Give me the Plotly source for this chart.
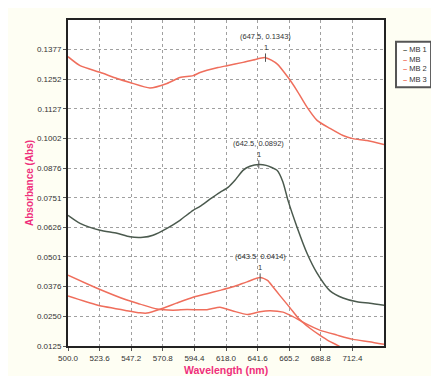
import plotly.graph_objects as go

# ---- data ----
names = ["MB 1", "MB", "MB 2", "MB 3"]

mb1_x = [500.0, 509.0, 523.9, 536.6, 546.3, 556.0, 563.5, 573.9, 583.6, 593.4, 598.6, 606.0,
         613.5, 619.5, 624.7, 630.7, 635.9, 642.5, 648.0, 656.1, 660.5, 664.3, 671.0, 678.5,
         686.0, 695.7, 705.4, 715.8, 725.5, 736.0]
mb1_y = [0.0677, 0.0643, 0.0614, 0.0601, 0.0586, 0.0584, 0.0593, 0.0622, 0.0656, 0.0698, 0.0715, 0.0745,
         0.0774, 0.0795, 0.0825, 0.0867, 0.0884, 0.0892, 0.0888, 0.0867, 0.0818, 0.0740, 0.0628, 0.0517,
         0.0433, 0.0358, 0.0328, 0.0312, 0.0306, 0.0297]

mb_x = [500.0, 509.0, 523.9, 536.6, 546.3, 561.2, 573.9, 583.6, 593.4, 598.6, 612.0, 618.7,
        630.7, 638.2, 647.5, 656.1, 664.3, 671.0, 678.5, 686.0, 695.7, 705.4, 712.8, 723.3, 736.0]
mb_y = [0.1347, 0.1309, 0.1281, 0.1255, 0.1238, 0.1215, 0.1234, 0.1259, 0.1267, 0.1280, 0.1301, 0.1309,
        0.1323, 0.1333, 0.1343, 0.1317, 0.1260, 0.1204, 0.1134, 0.1078, 0.1044, 0.1014, 0.1001, 0.0993, 0.0976]

mb2_x = [500.0, 521.7, 544.0, 553.8, 559.0, 568.7, 581.0, 593.4, 603.8, 613.5, 623.2, 633.7,
         643.5, 649.0, 653.0, 658.0, 666.0, 671.0, 675.0, 680.7, 688.0, 695.0, 701.0, 706.0]
mb2_y = [0.0336, 0.0298, 0.0274, 0.0265, 0.0264, 0.0280, 0.0306, 0.0331, 0.0346, 0.0360, 0.0375, 0.0396,
         0.0414, 0.0402, 0.0375, 0.0340, 0.0285, 0.0249, 0.0227, 0.0200, 0.0171, 0.0146, 0.0129, 0.0112]

mb3_x = [500.0, 521.7, 544.0, 553.8, 566.5, 578.4, 588.9, 603.8, 613.5, 623.2, 634.4, 643.4,
         651.0, 660.6, 668.0, 675.0, 688.0, 701.0, 713.0, 725.0, 736.0]
mb3_y = [0.0424, 0.0369, 0.0319, 0.0302, 0.0281, 0.0276, 0.0279, 0.0278, 0.0289, 0.0273, 0.0258, 0.0270,
         0.0274, 0.0268, 0.0249, 0.0227, 0.0192, 0.0171, 0.0153, 0.0143, 0.0132]

peak_x = [647.5, 642.5, 643.5]
peak_y = [0.1343, 0.0892, 0.0414]
peak_labels = ["(647.5, 0.1343)", "(642.5, 0.0892)", "(643.5, 0.0414)"]

x_ticks = [500.0, 523.6, 547.2, 570.8, 594.4, 618.0, 641.6, 665.2, 688.8, 712.4]
x_tick_labels = ["500.0", "523.6", "547.2", "570.8", "594.4", "618.0", "641.6", "665.2", "688.8", "712.4"]
y_ticks = [0.0125, 0.0250, 0.0376, 0.0501, 0.0626, 0.0751, 0.0876, 0.1002, 0.1127, 0.1252, 0.1377]
y_tick_labels = ["0.0125", "0.0250", "0.0376", "0.0501", "0.0626", "0.0751", "0.0876", "0.1002",
                 "0.1127", "0.1252", "0.1377"]

DARK = "#4b5a4e"
RED = "#ef6e5c"
PINK = "#ef2f7c"
FONT = "Liberation Sans, Arial"
colors = {"MB 1": DARK, "MB": RED, "MB 2": RED, "MB 3": RED}

fig = go.Figure()
series = [("MB 1", mb1_x, mb1_y), ("MB", mb_x, mb_y), ("MB 2", mb2_x, mb2_y), ("MB 3", mb3_x, mb3_y)]
for nm, xs, ys in series:
    fig.add_trace(go.Scatter(x=xs, y=ys, mode="lines", name=nm, showlegend=False,
                             line=dict(color=colors[nm], width=1.5, shape="spline", smoothing=0.6)))

# peak markers
fig.add_trace(go.Scatter(x=peak_x, y=peak_y, mode="markers", showlegend=False,
                         marker=dict(symbol="line-ns", size=6, line=dict(color="#555", width=1))))

for px_, py_, lab in zip(peak_x, peak_y, peak_labels):
    fig.add_annotation(x=px_, y=py_, text=lab, showarrow=False, yshift=21,
                       font=dict(size=7.5, color="#333", family=FONT))
    fig.add_annotation(x=px_, y=py_, text="1", showarrow=False, yshift=10,
                       font=dict(size=7.5, color="#333", family=FONT))

# legend box (drawn in paper coordinates)
fig.add_shape(type="rect", xref="paper", yref="paper", x0=1.038, x1=1.149, y0=0.794, y1=0.933,
              line=dict(color="#555", width=2), fillcolor="white", layer="above")
leg_y = [0.911, 0.880, 0.850, 0.819]
for nm, ly in zip(names, leg_y):
    fig.add_annotation(xref="paper", yref="paper", x=1.055, y=ly, xanchor="left", yanchor="middle",
                       showarrow=False,
                       text=f'<span style="color:{colors[nm]}"><b>–</b></span> {nm}',
                       font=dict(size=7.5, color="#333", family=FONT))

# axis titles
fig.add_annotation(xref="paper", yref="paper", x=0, y=0.5, xanchor="center", yanchor="middle",
                   xshift=-39, textangle=-90, showarrow=False, text="<b>Absorbance (Abs)</b>",
                   font=dict(size=10, color=PINK, family=FONT))
fig.add_annotation(xref="paper", yref="paper", x=0.5, y=0, xanchor="center", yanchor="top",
                   yshift=-16, showarrow=False, text="<b>Wavelength (nm)</b>",
                   font=dict(size=10.5, color=PINK, family=FONT))

axis_common = dict(showline=True, linecolor="#222", linewidth=2, mirror=True,
                   showgrid=True, gridcolor="#a0a0a0", gridwidth=1, griddash="dot",
                   ticks="outside", ticklen=3, tickcolor="#555", zeroline=False, automargin=False,
                   tickfont=dict(size=8, color="#333", family=FONT))

fig.update_xaxes(range=[500, 736], tickvals=x_ticks, ticktext=x_tick_labels, **axis_common)
fig.update_yaxes(range=[0.0125, 0.1502], tickvals=y_ticks, ticktext=y_tick_labels, **axis_common)

# page body adds an 8px offset, so the figure is sized/margined to compensate
fig.update_layout(width=431, height=368,
                  margin=dict(l=60, r=55, t=12, b=30),
                  paper_bgcolor="#fefef3", plot_bgcolor="white")

fig.write_html("out.html")
